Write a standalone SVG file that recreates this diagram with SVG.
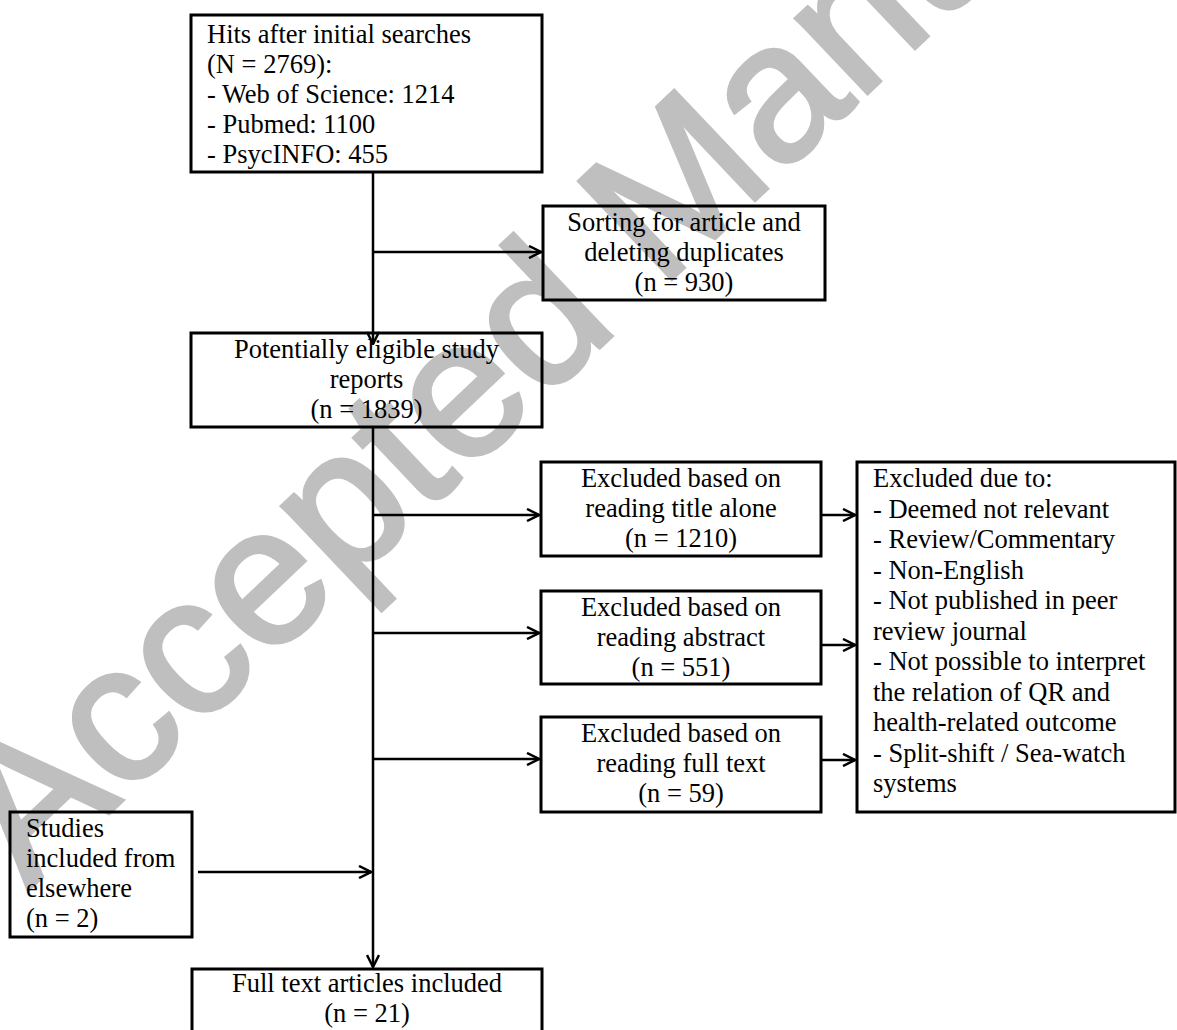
<svg xmlns="http://www.w3.org/2000/svg" width="1177" height="1030" viewBox="0 0 1177 1030">
<defs>
<style>
.box{fill:none;stroke:#000;stroke-width:3}
.t{font-family:"Liberation Serif","Times New Roman",serif;font-size:26.5px;fill:#000}
.c{text-anchor:middle}
.ln{fill:none;stroke:#000;stroke-width:2.5}
.wm{font-family:"Liberation Sans",Arial,sans-serif;font-size:196px;fill:#bfbfbf;stroke:#bfbfbf;stroke-width:4}
</style>
<marker id="arr" viewBox="0 0 14 14" refX="13" refY="7" markerWidth="14" markerHeight="14" markerUnits="userSpaceOnUse" orient="auto">
<path d="M1,1 L13,7 L1,13" fill="none" stroke="#000" stroke-width="2.5"/>
</marker>
</defs>
<rect width="1177" height="1030" fill="#fff"/>
<g id="watermark">
<text class="wm" transform="translate(28,890) rotate(-43.5)">Accepted Manuscript</text>
</g>
<g id="connectors">
<path class="ln" d="M373,172 V344" marker-end="url(#arr)"/>
<path class="ln" d="M373,252 H541" marker-end="url(#arr)"/>
<path class="ln" d="M373,427 V967" marker-end="url(#arr)"/>
<path class="ln" d="M373,515 H539" marker-end="url(#arr)"/>
<path class="ln" d="M373,633 H539" marker-end="url(#arr)"/>
<path class="ln" d="M373,759 H539" marker-end="url(#arr)"/>
<path class="ln" d="M821,515 H855" marker-end="url(#arr)"/>
<path class="ln" d="M821,645 H855" marker-end="url(#arr)"/>
<path class="ln" d="M821,760 H855" marker-end="url(#arr)"/>
<path class="ln" d="M198,872 H371" marker-end="url(#arr)"/>
</g>
<g id="n_hits">
<rect class="box" x="191" y="15" width="351" height="157"/>
<text class="t" x="207" y="43">Hits after initial searches</text>
<text class="t" x="207" y="73">(N = 2769):</text>
<text class="t" x="207" y="103">- Web of Science: 1214</text>
<text class="t" x="207" y="133">- Pubmed: 1100</text>
<text class="t" x="207" y="163">- PsycINFO: 455</text>
</g>
<g id="n_sort">
<rect class="box" x="543" y="206" width="282" height="94"/>
<text class="t c" x="684" y="231">Sorting for article and</text>
<text class="t c" x="684" y="261">deleting duplicates</text>
<text class="t c" x="684" y="291">(n = 930)</text>
</g>
<g id="n_potential">
<rect class="box" x="191" y="333" width="351" height="94"/>
<text class="t c" x="366.5" y="358">Potentially eligible study</text>
<text class="t c" x="366.5" y="388">reports</text>
<text class="t c" x="366.5" y="418">(n = 1839)</text>
</g>
<g id="n_title">
<rect class="box" x="541" y="462" width="280" height="94"/>
<text class="t c" x="681" y="487">Excluded  based on</text>
<text class="t c" x="681" y="517">reading title alone</text>
<text class="t c" x="681" y="547">(n = 1210)</text>
</g>
<g id="n_abstract">
<rect class="box" x="541" y="591" width="280" height="93"/>
<text class="t c" x="681" y="616">Excluded  based on</text>
<text class="t c" x="681" y="646">reading abstract</text>
<text class="t c" x="681" y="676">(n = 551)</text>
</g>
<g id="n_fulltext">
<rect class="box" x="541" y="717" width="280" height="95"/>
<text class="t c" x="681" y="742">Excluded  based on</text>
<text class="t c" x="681" y="772">reading full text</text>
<text class="t c" x="681" y="802">(n = 59)</text>
</g>
<g id="n_reasons">
<rect class="box" x="857" y="462" width="318" height="350"/>
<text class="t" x="873" y="487">Excluded  due to:</text>
<text class="t" x="873" y="517.5">- Deemed not relevant</text>
<text class="t" x="873" y="548">- Review/Commentary</text>
<text class="t" x="873" y="578.5">- Non-English</text>
<text class="t" x="873" y="609">- Not published in peer</text>
<text class="t" x="873" y="639.5">review journal</text>
<text class="t" x="873" y="670">- Not possible to interpret</text>
<text class="t" x="873" y="700.5">the relation of QR and</text>
<text class="t" x="873" y="731">health-related outcome</text>
<text class="t" x="873" y="761.5">- Split-shift / Sea-watch</text>
<text class="t" x="873" y="792">systems</text>
</g>
<g id="n_studies">
<rect class="box" x="10" y="812" width="182" height="125"/>
<text class="t" x="26" y="837">Studies</text>
<text class="t" x="26" y="867">included from</text>
<text class="t" x="26" y="897">elsewhere</text>
<text class="t" x="26" y="927">(n = 2)</text>
</g>
<g id="n_final">
<rect class="box" x="192" y="969" width="350" height="75"/>
<text class="t c" x="367" y="992">Full text articles included</text>
<text class="t c" x="367" y="1022">(n = 21)</text>
</g>
</svg>
